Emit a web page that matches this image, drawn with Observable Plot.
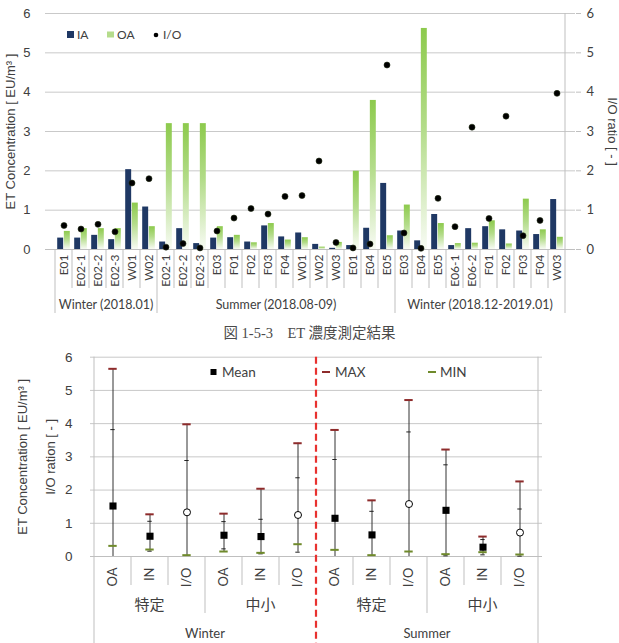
<!DOCTYPE html>
<html>
<head>
<meta charset="utf-8">
<script src="https://cdn.jsdelivr.net/npm/d3@7"></script>
<script src="https://cdn.jsdelivr.net/npm/@observablehq/plot@0.6"></script>
<style>
  body { margin: 0; background: #fff; }
  #page { position: relative; width: 619px; height: 643px; overflow: hidden; background: #fff; }
  #page svg { position: absolute; left: 0; }
  #caption {
    position: absolute; left: 0; top: 321px; width: 619px; text-align: center;
    font-family: "Liberation Serif", "Noto Sans CJK JP", serif; font-size: 14.5px; color: #4a4a4a;
  }
</style>
</head>
<body>
<div id="page"><div id="caption">図 1-5-3　ET 濃度測定結果</div></div>
<script>
// ---- Site survey: indoor (IA), outdoor (OA) endotoxin and I/O ratio ----
const seasonLabels = ["Winter (2018.01)", "Summer (2018.08-09)", "Winter (2018.12-2019.01)"];
const winterSites1 = ["E01", "E02-1", "E02-2", "E02-3", "W01", "W02"];
const summerSites = ["E02-1", "E02-2", "E02-3", "E03", "F01", "F02", "F03", "F04", "W01", "W02", "W03", "E01", "E04", "E05"];
const winterSites2 = ["E03", "E04", "E05", "E06-1", "E06-2", "F01", "F02", "F03", "F04", "W03"];

const iaValues = [0.29, 0.29, 0.36, 0.25, 2.03, 1.08,
  0.19, 0.53, 0.15, 0.29, 0.30, 0.19, 0.60, 0.32, 0.42, 0.13, 0.03, 0.10, 0.54, 1.68,
  0.47, 0.22, 0.89, 0.10, 0.53, 0.58, 0.50, 0.47, 0.38, 1.27];
const oaValues = [0.46, 0.53, 0.53, 0.53, 1.18, 0.58,
  3.20, 3.20, 3.20, 0.58, 0.36, 0.17, 0.66, 0.24, 0.30, 0.06, 0.18, 1.99, 3.79, 0.35,
  1.13, 5.62, 0.66, 0.15, 0.16, 0.73, 0.14, 1.28, 0.50, 0.31];
const ioValues = [0.61, 0.52, 0.64, 0.45, 1.69, 1.80,
  0.06, 0.15, 0.04, 0.47, 0.80, 1.04, 0.90, 1.35, 1.37, 2.25, 0.18, 0.04, 0.14, 4.69,
  0.42, 0.03, 1.30, 0.58, 3.11, 0.79, 3.39, 0.35, 0.74, 3.97];

// ---- Summary by season / facility type / measure ----
const seasonNames = ["Winter", "Summer"];
const sectorNames = ["特定", "中小"];
const measureNames = ["OA", "IN", "I/O"];
const meanValues = [1.52, 0.61, 1.33, 0.64, 0.60, 1.25, 1.15, 0.65, 1.58, 1.39, 0.28, 0.72];
const maxValues  = [5.65, 1.27, 3.98, 1.29, 2.04, 3.41, 3.81, 1.69, 4.71, 3.22, 0.60, 2.26];
const minValues  = [0.32, 0.21, 0.04, 0.15, 0.11, 0.37, 0.20, 0.04, 0.15, 0.07, 0.13, 0.06];
const sdValues   = [2.30, 0.45, 1.56, 0.41, 0.52, 1.12, 1.77, 0.71, 2.17, 1.37, 0.23, 0.71];

const page = document.getElementById("page");
const axisColor = "#404040";
const gridColor = "#c9c9c9";
const lineColor = "#bfbfbf";
const sans = "Lato, 'Open Sans', sans-serif";
const arial = "'Liberation Sans', Arial, sans-serif";

// ---------- upper chart ----------
const rows = [winterSites1, summerSites, winterSites2].flatMap((sites, g) =>
  sites.map(site => ({group: g, season: seasonLabels[g], site, key: `${g}|${site}`})));
rows.forEach((d, i) => { d.ia = iaValues[i]; d.oa = oaValues[i]; d.io = ioValues[i]; });

const topChart = Plot.plot({
  width: 619, height: 318,
  marginTop: 13, marginRight: 44, marginBottom: 69, marginLeft: 45,
  style: {background: "transparent", color: axisColor, fontFamily: sans},
  x: {type: "band", domain: rows.map(d => d.key), padding: 0},
  y: {domain: [0, 6]},
  marks: [
    Plot.gridY(d3.range(1, 7), {stroke: gridColor, strokeOpacity: 1}),
    Plot.axisY(d3.range(0, 7), {anchor: "left", tickSize: 0, tickPadding: 15, label: null, fontSize: 13, fontFamily: arial}),
    Plot.axisY(d3.range(0, 7), {anchor: "right", tickSize: 5, tickPadding: 6, label: null, fontSize: 13, stroke: lineColor}),
    Plot.barY(rows, {x: "key", y: "ia", fill: "#1f3864", insetLeft: 2.2, insetRight: 8.84}),
    Plot.barY(rows, {x: "key", y: "oa", fill: "url(#oa-fade)", insetLeft: 8.84, insetRight: 2.2}),
    Plot.ruleY([0], {stroke: lineColor}),
    Plot.dot(rows, {x: "key", y: "io", r: 3, fill: "#000", stroke: "#1e2a10", strokeWidth: 0.6}),
    Plot.axisX({tickRotate: -90, tickSize: 0, tickPadding: 5, label: null, fontSize: 12,
      tickFormat: k => k.split("|")[1]}),
    Plot.text(["ET Concentration [ EU/m³ ]"], {text: d => d, frameAnchor: "left", textAnchor: "middle", dx: -35, rotate: -90, fontSize: 13, fontFamily: arial}),
    Plot.text(["I/O ratio [ - ]"], {text: d => d, frameAnchor: "right", textAnchor: "middle", dx: 37, rotate: 90, fontSize: 13, fontFamily: arial})
  ]
});
topChart.style.top = "0px";
page.appendChild(topChart);

{
  const svg = d3.select(topChart);
  const grad = svg.insert("defs", ":first-child").append("linearGradient")
    .attr("id", "oa-fade").attr("x1", 0).attr("y1", 0).attr("x2", 0).attr("y2", 1);
  grad.append("stop").attr("offset", 0).attr("stop-color", "#8dca4d");
  grad.append("stop").attr("offset", 0.45).attr("stop-color", "#b3dc89");
  grad.append("stop").attr("offset", 1).attr("stop-color", "#f8fbf4");

  const xs = topChart.scale("x"), ys = topChart.scale("y");
  const y0 = ys.apply(0), yTop = ys.apply(6);
  const right = xs.apply(rows[rows.length - 1].key) + xs.bandwidth;
  const deco = svg.append("g").attr("stroke", lineColor).attr("fill", "none");
  rows.forEach((d, i) => {
    const x = xs.apply(d.key);
    const long = i === 0 || rows[i - 1].group !== d.group;
    deco.append("line").attr("x1", x).attr("x2", x).attr("y1", y0).attr("y2", y0 + (long ? 64 : 39));
  });
  deco.append("line").attr("x1", right).attr("x2", right).attr("y1", yTop).attr("y2", y0 + 64);

  const labels = svg.append("g").attr("fill", axisColor).attr("font-family", sans).attr("font-size", 12.5)
    .attr("text-anchor", "middle");
  seasonLabels.forEach((label, g) => {
    const members = rows.filter(d => d.group === g);
    const x1 = xs.apply(members[0].key), x2 = xs.apply(members[members.length - 1].key) + xs.bandwidth;
    labels.append("text").attr("x", (x1 + x2) / 2).attr("y", y0 + 56).attr("dy", "0.35em").text(label);
  });

  // legend
  const lg = svg.append("g").attr("font-family", sans).attr("font-size", 12).attr("fill", axisColor)
    .attr("text-anchor", "start");
  lg.append("rect").attr("x", 67).attr("y", 31).attr("width", 7).attr("height", 7).attr("fill", "#1f3864");
  lg.append("text").attr("x", 77).attr("y", 35).attr("dy", "0.35em").text("IA");
  lg.append("rect").attr("x", 107).attr("y", 31.5).attr("width", 7).attr("height", 6).attr("fill", "#b5dc8c");
  lg.append("text").attr("x", 117).attr("y", 35).attr("dy", "0.35em").text("OA");
  lg.append("circle").attr("cx", 156).attr("cy", 35).attr("r", 2.3).attr("fill", "#000");
  lg.append("text").attr("x", 163).attr("y", 35).attr("dy", "0.35em").text("I/O");
}

// ---------- lower chart ----------
const stats = [];
seasonNames.forEach(season => sectorNames.forEach(sector => measureNames.forEach(measure => {
  const i = stats.length;
  stats.push({season, sector, measure, key: `${season}|${sector}|${measure}`,
    mean: meanValues[i], max: maxValues[i], min: minValues[i], sd: sdValues[i]});
})));

const bottomChart = Plot.plot({
  width: 619, height: 303,
  marginTop: 16.7, marginRight: 77, marginBottom: 87, marginLeft: 90,
  style: {background: "transparent", color: axisColor, fontFamily: sans},
  x: {type: "band", domain: stats.map(d => d.key), padding: 0},
  y: {domain: [0, 6]},
  marks: [
    Plot.gridY(d3.range(1, 7), {stroke: gridColor, strokeOpacity: 1}),
    Plot.ruleY([0], {stroke: lineColor}),
    Plot.axisY(d3.range(0, 7), {anchor: "left", tickSize: 0, tickPadding: 18, label: null, fontSize: 13.5, fontFamily: arial}),
    Plot.axisX({tickRotate: -90, tickSize: 0, tickPadding: 11, label: null, fontSize: 13,
      tickFormat: k => k.split("|")[2]}),
    Plot.ruleX(stats, {x: "key", y1: d => Math.min(d.min, Math.max(0, d.mean - d.sd)), y2: "max", stroke: "#333", strokeWidth: 1}),
    Plot.tickY(stats, {x: "key", y: d => d.mean + d.sd, inset: 16.3, stroke: "#222"}),
    Plot.tickY(stats.filter(d => d.mean - d.sd > 0), {x: "key", y: d => d.mean - d.sd, inset: 16.3, stroke: "#222"}),
    Plot.tickY(stats, {x: "key", y: "max", inset: 14.3, stroke: "#8e2b2b", strokeWidth: 2}),
    Plot.tickY(stats, {x: "key", y: "min", inset: 14.3, stroke: "#6f8a2b", strokeWidth: 2}),
    Plot.dot(stats.filter(d => d.measure !== "I/O"), {x: "key", y: "mean", symbol: "square", r: 4, fill: "#000"}),
    Plot.dot(stats.filter(d => d.measure === "I/O"), {x: "key", y: "mean", r: 3.5, fill: "#fff", stroke: "#000", strokeWidth: 1}),
    Plot.text(["ET Concentration [ EU/m³ ]"], {text: d => d, frameAnchor: "left", textAnchor: "middle", dx: -68, rotate: -90, fontSize: 13, fontFamily: arial}),
    Plot.text(["I/O ration [ - ]"], {text: d => d, frameAnchor: "left", textAnchor: "middle", dx: -40, rotate: -90, fontSize: 13, fontFamily: arial})
  ]
});
bottomChart.style.top = "340px";
page.appendChild(bottomChart);

{
  const svg = d3.select(bottomChart);
  const xs = bottomChart.scale("x"), ys = bottomChart.scale("y");
  const y0 = ys.apply(0), yTop = ys.apply(6), yEnd = 303;
  const right = xs.apply(stats[stats.length - 1].key) + xs.bandwidth;
  const deco = svg.append("g").attr("stroke", lineColor).attr("fill", "none");
  stats.forEach((d, i) => {
    const x = xs.apply(d.key);
    if (i === 0) {
      deco.append("line").attr("x1", x).attr("x2", x).attr("y1", yTop).attr("y2", yEnd);
    } else if (stats[i - 1].season !== d.season) {
      svg.append("line").attr("x1", x).attr("x2", x).attr("y1", yTop).attr("y2", yEnd)
        .attr("stroke", "#e8312f").attr("stroke-width", 2.2).attr("stroke-dasharray", "7,4");
    } else {
      const sectorBreak = stats[i - 1].sector !== d.sector;
      deco.append("line").attr("x1", x).attr("x2", x).attr("y1", y0).attr("y2", y0 + (sectorBreak ? 57 : 29));
    }
  });
  deco.append("line").attr("x1", right).attr("x2", right).attr("y1", yTop).attr("y2", yEnd);

  const labels = svg.append("g").attr("fill", axisColor).attr("text-anchor", "middle");
  seasonNames.forEach(season => {
    const ss = stats.filter(d => d.season === season);
    const sx1 = xs.apply(ss[0].key), sx2 = xs.apply(ss[ss.length - 1].key) + xs.bandwidth;
    labels.append("text").attr("x", (sx1 + sx2) / 2).attr("y", y0 + 77).attr("dy", "0.35em")
      .attr("font-family", sans).attr("font-size", 13).text(season);
    sectorNames.forEach(sector => {
      const ms = ss.filter(d => d.sector === sector);
      const x1 = xs.apply(ms[0].key), x2 = xs.apply(ms[ms.length - 1].key) + xs.bandwidth;
      labels.append("text").attr("x", (x1 + x2) / 2).attr("y", y0 + 49).attr("dy", "0.35em")
        .attr("font-family", "'Noto Sans CJK JP', sans-serif").attr("font-size", 15).text(sector);
    });
  });

  // legend
  const lg = svg.append("g").attr("font-family", sans).attr("font-size", 13.5).attr("fill", axisColor)
    .attr("text-anchor", "start");
  lg.append("rect").attr("x", 210.5).attr("y", 29).attr("width", 6).attr("height", 6).attr("fill", "#000");
  lg.append("text").attr("x", 222).attr("y", 32).attr("dy", "0.35em").text("Mean");
  lg.append("line").attr("x1", 322).attr("x2", 330).attr("y1", 32).attr("y2", 32).attr("stroke", "#8e2b2b").attr("stroke-width", 2);
  lg.append("text").attr("x", 335).attr("y", 32).attr("dy", "0.35em").text("MAX");
  lg.append("line").attr("x1", 428).attr("x2", 436).attr("y1", 32).attr("y2", 32).attr("stroke", "#6f8a2b").attr("stroke-width", 2);
  lg.append("text").attr("x", 440).attr("y", 32).attr("dy", "0.35em").text("MIN");
}
</script>
</body>
</html>
